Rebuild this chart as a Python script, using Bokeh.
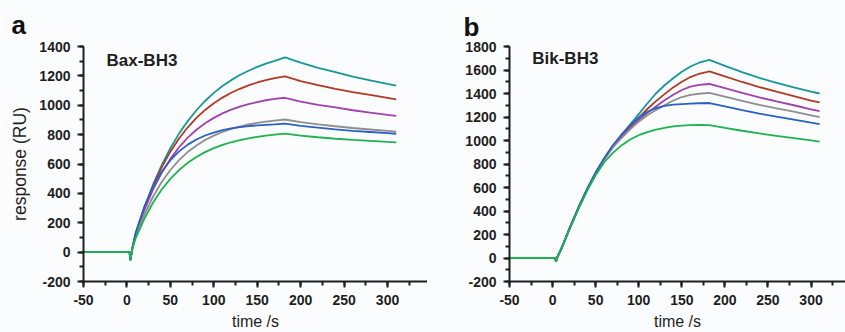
from bokeh.plotting import figure
from bokeh.models import Range1d, SingleIntervalTicker, Label, PrintfTickFormatter
from bokeh.layouts import row
from bokeh.embed import file_html
from bokeh.resources import INLINE

# ---------------- data ----------------
time_s = [-50, 3, 4, 6, 10, 20, 30, 40, 50, 60, 70, 80, 90, 100, 110, 120, 130,
          140, 150, 160, 170, 182, 200, 220, 240, 260, 280, 300, 310]

# panel a: Bax-BH3
teal_a = [0, 0, -55, 20, 122, 303, 459, 592, 707, 807, 892, 966, 1029, 1084, 1131, 1171, 1206,
          1235, 1261, 1283, 1302, 1326, 1290, 1255, 1225, 1195, 1170, 1145, 1133]
red_a = [0, 0, -55, 20, 122, 300, 450, 577, 684, 774, 850, 914, 968, 1013, 1052, 1085, 1112,
         1135, 1155, 1171, 1185, 1196, 1165, 1137, 1112, 1090, 1070, 1050, 1040]
purple_a = [0, 0, -55, 20, 118, 286, 425, 540, 635, 714, 779, 833, 877, 914, 945, 970, 990,
            1008, 1022, 1034, 1043, 1051, 1025, 1003, 985, 966, 950, 935, 928]
gray_a = [0, 0, -55, 18, 105, 255, 377, 477, 559, 627, 682, 726, 763, 793, 818, 839, 855,
          869, 880, 889, 896, 903, 885, 870, 857, 845, 835, 825, 820]
blue_a = [0, 0, -55, 22, 132, 309, 444, 547, 626, 686, 732, 767, 794, 814, 830, 842, 851,
          858, 863, 867, 870, 875, 860, 847, 836, 826, 818, 810, 806]
green_a = [0, 0, -55, 16, 94, 227, 336, 426, 499, 559, 608, 648, 681, 708, 730, 748, 763,
           775, 785, 793, 800, 807, 793, 782, 772, 764, 757, 750, 747]

# panel b: Bik-BH3
teal_b = [0, 0, -30, 15, 75, 255, 425, 580, 720, 843, 950, 1043, 1135, 1225, 1315, 1400, 1470,
          1530, 1585, 1630, 1662, 1686, 1635, 1582, 1533, 1490, 1452, 1416, 1400]
red_b = [0, 0, -30, 15, 75, 255, 425, 580, 720, 843, 950, 1035, 1115, 1195, 1268, 1335, 1395,
         1452, 1500, 1540, 1568, 1588, 1545, 1498, 1455, 1415, 1378, 1340, 1324]
purple_b = [0, 0, -30, 15, 75, 255, 425, 578, 718, 840, 947, 1028, 1105, 1175, 1235, 1290, 1342,
            1390, 1430, 1458, 1473, 1481, 1445, 1405, 1367, 1332, 1300, 1265, 1249]
gray_b = [0, 0, -30, 15, 75, 253, 423, 575, 715, 836, 942, 1020, 1095, 1160, 1215, 1260, 1300,
          1340, 1370, 1388, 1398, 1406, 1373, 1338, 1303, 1273, 1245, 1213, 1198]
blue_b = [0, 0, -30, 15, 77, 260, 432, 588, 730, 852, 960, 1050, 1130, 1195, 1245, 1275, 1295,
          1305, 1310, 1314, 1317, 1319, 1290, 1258, 1229, 1203, 1178, 1152, 1140]
green_b = [0, 0, -30, 15, 73, 250, 418, 570, 705, 815, 895, 958, 1008, 1045, 1072, 1093, 1108,
           1120, 1127, 1131, 1133, 1131, 1108, 1083, 1060, 1040, 1021, 1001, 991]

colors = ["#17979a", "#b03a22", "#a042ac", "#8e8e8e", "#2a5fc4", "#1db34e"]

BG = "#fbfcfe"
INK = "#1e1e1e"
FONT = "Liberation Sans"


def panel(width, left, x_end, y_start, y_end, series, title, title_xy,
          letter, letter_offset, letter_standoff, ylabel=None):
    p = figure(width=width, height=332, output_backend="svg", toolbar_location=None,
               x_range=Range1d(-50, x_end), y_range=Range1d(y_start, y_end),
               min_border_left=left, min_border_right=0, min_border_top=45,
               min_border_bottom=49, background_fill_color=BG, border_fill_color=BG,
               outline_line_color=None, title=letter)
    p.grid.visible = False
    for ys, c in zip(series, colors):
        p.line(time_s, ys, line_color=c, line_width=1.8)

    p.title.align = "left"
    p.title.offset = letter_offset
    p.title.standoff = letter_standoff
    p.title.text_font = FONT
    p.title.text_font_style = "bold"
    p.title.text_font_size = "26px"
    p.title.text_color = "#111111"

    p.xaxis.ticker = SingleIntervalTicker(interval=50, num_minor_ticks=2)
    p.yaxis.ticker = SingleIntervalTicker(interval=200, num_minor_ticks=2)
    for ax in (p.xaxis[0], p.yaxis[0]):
        ax.formatter = PrintfTickFormatter(format="%d")
        ax.axis_line_color = INK
        ax.axis_line_width = 2
        ax.major_tick_line_color = INK
        ax.major_tick_line_width = 2
        ax.minor_tick_line_color = INK
        ax.minor_tick_line_width = 2
        ax.major_tick_out = 6
        ax.major_tick_in = 0
        ax.minor_tick_out = 4
        ax.minor_tick_in = 0
        ax.major_label_text_font = FONT
        ax.major_label_text_font_style = "bold"
        ax.major_label_text_font_size = "14px"
        ax.major_label_text_color = INK
        ax.major_label_standoff = 7
        ax.axis_label_text_font = FONT
        ax.axis_label_text_font_style = "normal"
        ax.axis_label_text_color = INK
    p.xaxis.axis_label = "time /s"
    p.xaxis.axis_label_text_font_size = "16px"
    p.xaxis.axis_label_standoff = 5
    if ylabel:
        p.yaxis.axis_label = ylabel
        p.yaxis.axis_label_text_font_size = "17.5px"
        p.yaxis.axis_label_standoff = 6

    p.add_layout(Label(x=title_xy[0], y=title_xy[1], text=title, text_font=FONT,
                       text_font_style="bold", text_font_size="17px", text_color=INK,
                       text_baseline="alphabetic"))
    return p


pa = panel(427, 83, 346, -200, 1400,
           [teal_a, red_a, purple_a, gray_a, blue_a, green_a],
           "Bax-BH3", (-23.5, 1306), "a", -72, 14, ylabel="response (RU)")
pb = panel(418, 82, 340, -200, 1800,
           [teal_b, red_b, purple_b, gray_b, blue_b, green_b],
           "Bik-BH3", (-23.6, 1702), "b", -46, 10)

layout = row(pa, pb)
open("out.html", "w").write(file_html(layout, INLINE))
